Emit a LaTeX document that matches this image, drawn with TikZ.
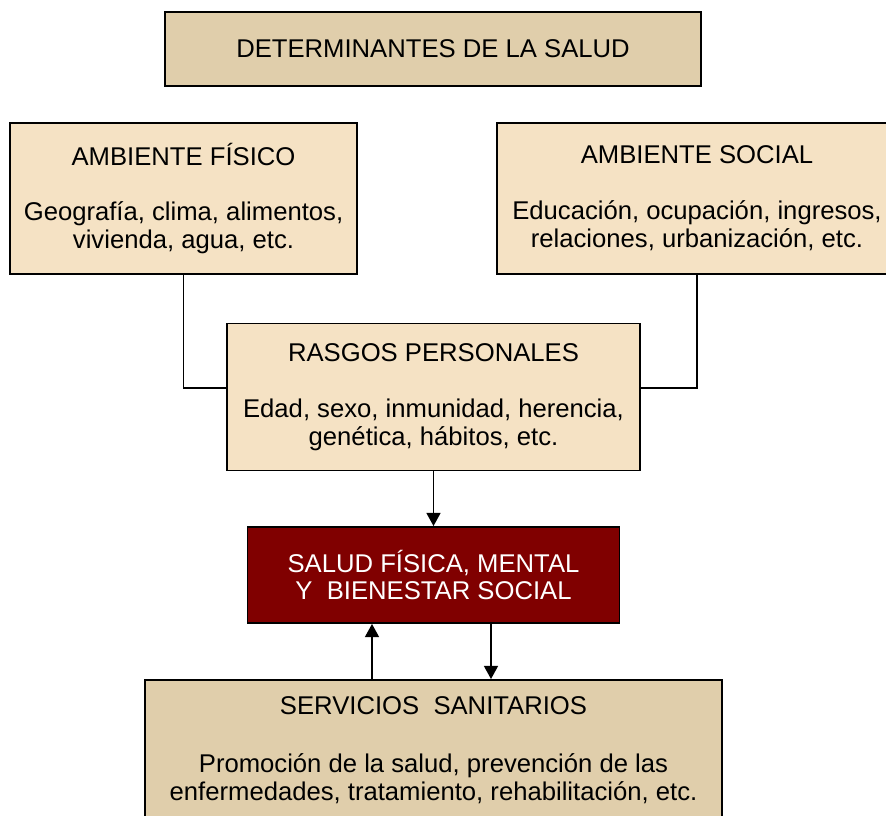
\documentclass[tikz,border=0pt]{standalone}
\usepackage{fontspec}
\setmainfont{Liberation Sans}
\usetikzlibrary{arrows.meta}

\definecolor{tostado}{RGB}{224,206,171}
\definecolor{crema}{RGB}{245,226,196}
\definecolor{granate}{RGB}{128,0,0}

\begin{document}
\begin{tikzpicture}[%
        line width = 0.9pt,
        > = {Triangle[length = 7.5pt, width = 8pt]},
        caja/.style = {
            draw,
            line width = 1.1pt,
            align = center,
            inner sep = 0pt,
            font = \fontsize{14.6}{15.9}\selectfont
        },
        claro/.style = {caja, fill = crema},
        oscuro/.style = {caja, fill = tostado}
    ]

        % Fix the size of the page.
        \useasboundingbox (0.0, 0.0) rectangle (17.72, 16.30);

        % Title box at the top.
        \node[oscuro, minimum width = 10.72cm, minimum height = 1.48cm]
            (titulo) at (8.66, 15.32) {DETERMINANTES DE LA SALUD};

        % The two environments and the personal traits.
        \node[claro, minimum width = 6.94cm, minimum height = 3.02cm]
            (fisico) at (3.67, 12.33)
            {AMBIENTE FÍSICO\\[15.9pt]Geografía, clima, alimentos,\\vivienda, agua, etc.};
        \node[claro, minimum width = 8.00cm, minimum height = 3.02cm]
            (social) at (13.94, 12.33)
            {AMBIENTE SOCIAL\\[15.9pt]Educación, ocupación, ingresos,\\relaciones, urbanización, etc.};
        \node[claro, minimum width = 8.26cm, minimum height = 2.94cm]
            (rasgos) at (8.67, 8.36)
            {RASGOS PERSONALES\\[15.9pt]Edad, sexo, inmunidad, herencia,\\genética, hábitos, etc.};

        % Health in the middle.
        \node[caja, fill = granate, text = white, minimum width = 7.44cm, minimum height = 1.92cm]
            (salud) at (8.67, 4.80) {SALUD FÍSICA, MENTAL\\Y\ \ BIENESTAR SOCIAL};

        % Health services at the bottom.
        \node[oscuro, minimum width = 11.54cm, minimum height = 2.80cm]
            (servicios) at (8.67, 1.30)
            {SERVICIOS\ \ SANITARIOS\\[17pt]Promoción de la salud, prevención de las\\enfermedades, tratamiento, rehabilitación, etc.};

        % Lines from the environments into the personal traits.
        \draw (fisico.south) |- ([yshift = 0.18cm]rasgos.west);
        \draw (social.south) |- ([yshift = 0.18cm]rasgos.east);

        % Arrows into and out of health.
        \draw[->] (rasgos) to (salud);
        \draw[->] ([xshift = -1.23cm]servicios.north) to ([xshift = -1.23cm]salud.south);
        \draw[->] ([xshift = 1.15cm]salud.south) to ([xshift = 1.15cm]servicios.north);
    \end{tikzpicture}
\end{document}
